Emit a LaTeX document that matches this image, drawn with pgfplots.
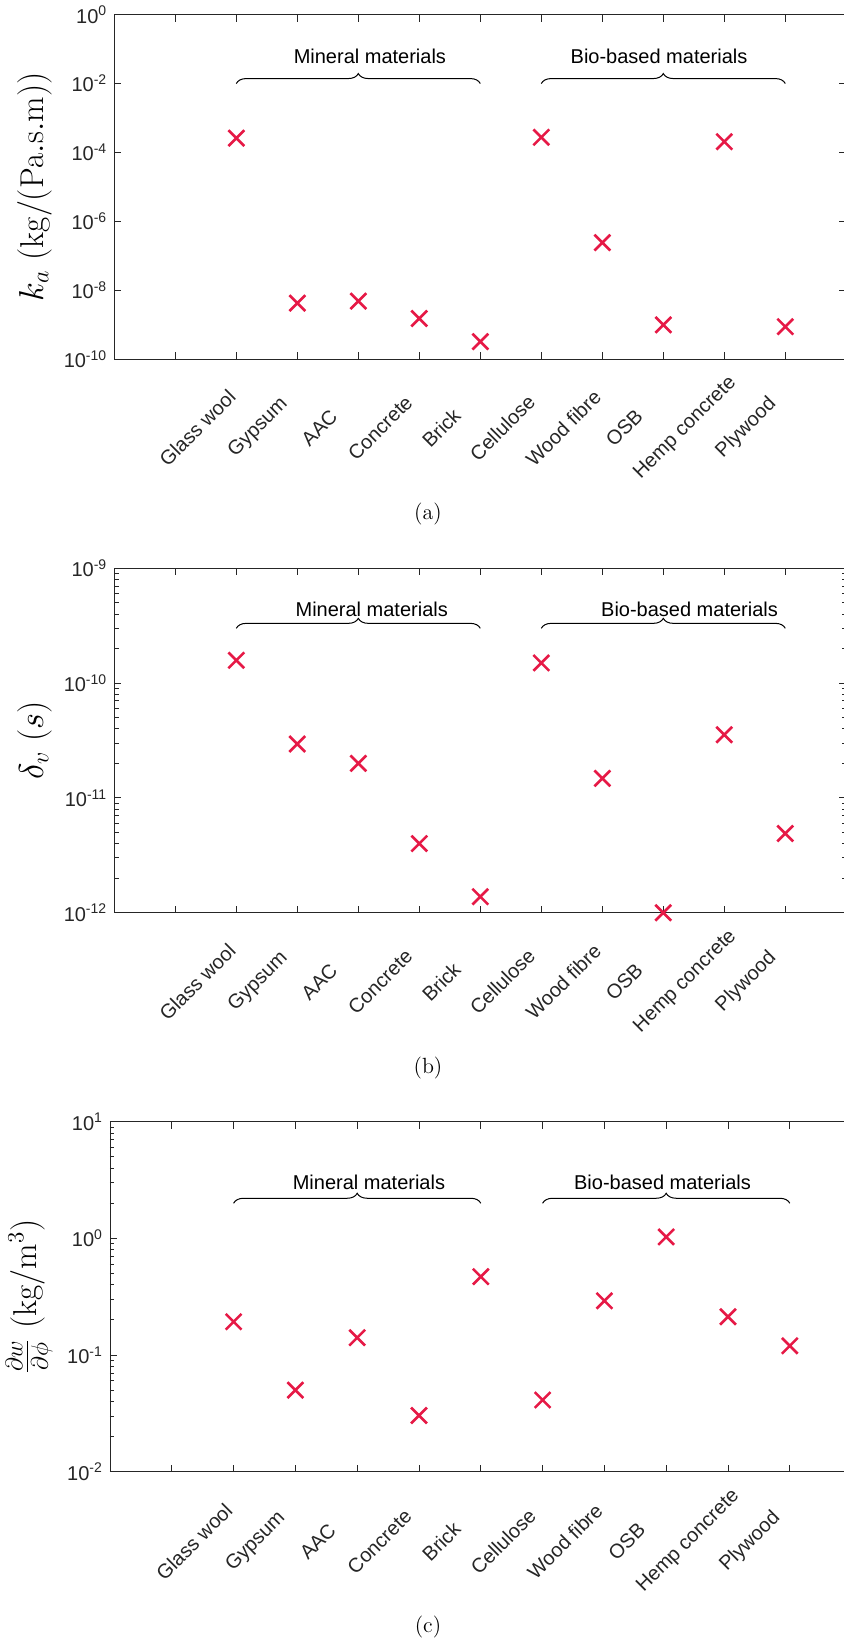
\documentclass[border=0pt]{standalone}
\usepackage{fontspec}
\usepackage{pgfplots}
\pgfplotsset{compat=1.18}
\usetikzlibrary{decorations.pathreplacing}
\newfontfamily\hv{Liberation Sans}
\definecolor{mred}{RGB}{230,25,70}
\definecolor{axgray}{gray}{0.15}

\pgfplotsset{
  panel/.style={
    scale only axis,
    xmin=-1, xmax=11, clip=false,
    xtick={0,...,10},
    xticklabels={,Glass wool,Gypsum,AAC,Concrete,Brick,Cellulose,Wood fibre,OSB,Hemp concrete,Plywood},
    axis line style={axgray, line width=0.45pt},
    tick style={axgray, line width=0.45pt},
    major tick length=3.5pt, minor tick length=2.2pt,
    tick label style={font=\hv, text=axgray},
    every axis y label/.style={at={(axis description cs:-0.109,0.5)}, rotate=90, anchor=center,
      font=\fontsize{16.5}{20}\selectfont},
  },
  pts/.style={only marks, mark=x, mark size=5.6pt, color=mred, mark options={line width=1.3pt}},
}
\tikzset{brc/.style={black, line width=0.5pt, decorate, decoration={brace, amplitude=5pt}}}

\begin{document}
\begin{tikzpicture}
% (a) air permeability
\begin{axis}[ymode=log, panel, at={(57.15pt,-7.35pt)}, anchor=north west,
  width=366pt, height=172.15pt,
  ymin=1e-10, ymax=1,
  ytick={1e-10,1e-8,1e-6,1e-4,1e-2,1},
  yticklabels={10\textsuperscript{-10},10\textsuperscript{-8},10\textsuperscript{-6},10\textsuperscript{-4},10\textsuperscript{-2},10\textsuperscript{0}},
  yminorticks=false,
  xticklabel style={xshift=-19.5pt, yshift=-34.5pt, rotate=45, anchor=center},
  ylabel={$k_a\ (\mathrm{kg/(Pa.s.m)})$},
]
\addplot[pts] coordinates {(1,2.6e-4) (2,4.2e-9) (3,4.8e-9) (4,1.5e-9) (5,3.2e-10)
  (6,2.75e-4) (7,2.4e-7) (8,9.8e-10) (9,2.05e-4) (10,8.7e-10)};
\draw[brc] (axis cs:1,1e-2) -- (axis cs:5,1e-2);
\draw[brc] (axis cs:6,1e-2) -- (axis cs:10,1e-2);
\node[font=\hv, anchor=base, yshift=10.15pt] at (axis cs:3.19,1e-2) {Mineral materials};
\node[font=\hv, anchor=base, yshift=10.15pt] at (axis cs:7.93,1e-2) {Bio-based materials};
\end{axis}

% (b) vapour permeability
\begin{axis}[ymode=log, panel, at={(57.15pt,-284.15pt)}, anchor=north west,
  width=366pt, height=172.2pt,
  ymin=1e-12, ymax=1e-9,
  ytick={1e-12,1e-11,1e-10,1e-9},
  yticklabels={10\textsuperscript{-12},10\textsuperscript{-11},10\textsuperscript{-10},10\textsuperscript{-9}},
  minor ytick={2e-12,3e-12,4e-12,5e-12,6e-12,7e-12,8e-12,9e-12,
    2e-11,3e-11,4e-11,5e-11,6e-11,7e-11,8e-11,9e-11,
    2e-10,3e-10,4e-10,5e-10,6e-10,7e-10,8e-10,9e-10},
  xticklabel style={xshift=-19.5pt, yshift=-34.5pt, rotate=45, anchor=center},
  ylabel={$\delta_v\ (s)$},
]
\addplot[pts] coordinates {(1,1.58e-10) (2,2.95e-11) (3,2.0e-11) (4,4.0e-12) (5,1.38e-12)
  (6,1.5e-10) (7,1.48e-11) (8,1.0e-12) (9,3.55e-11) (10,4.9e-12)};
\draw[brc] (axis cs:1,3e-10) -- (axis cs:5,3e-10);
\draw[brc] (axis cs:6,3e-10) -- (axis cs:10,3e-10);
\node[font=\hv, anchor=base, yshift=5.8pt] at (axis cs:3.22,3e-10) {Mineral materials};
\node[font=\hv, anchor=base, yshift=5.8pt] at (axis cs:8.43,3e-10) {Bio-based materials};
\end{axis}

% (c) moisture capacity
\begin{axis}[ymode=log, panel, at={(55pt,-560.85pt)}, anchor=north west,
  width=370.8pt, height=175pt,
  ymin=1e-2, ymax=10,
  ytick={1e-2,1e-1,1,10},
  yticklabels={10\textsuperscript{-2},10\textsuperscript{-1},10\textsuperscript{0},10\textsuperscript{1}},
  minor ytick={0.02,0.03,0.04,0.05,0.06,0.07,0.08,0.09,
    0.2,0.3,0.4,0.5,0.6,0.7,0.8,0.9,2,3,4,5,6,7,8,9},
  xticklabel style={xshift=-19.75pt, yshift=-34.9pt, rotate=45, anchor=center},
  ylabel={$\frac{\partial w}{\partial \phi}\ (\mathrm{kg/m^3})$},
]
\addplot[pts] coordinates {(1,0.193) (2,0.050) (3,0.141) (4,0.0303) (5,0.47)
  (6,0.0412) (7,0.292) (8,1.03) (9,0.213) (10,0.12)};
\draw[brc] (axis cs:1,2) -- (axis cs:5,2);
\draw[brc] (axis cs:6,2) -- (axis cs:10,2);
\node[font=\hv, anchor=base, yshift=6.65pt] at (axis cs:3.19,2) {Mineral materials};
\node[font=\hv, anchor=base, yshift=6.65pt] at (axis cs:7.94,2) {Bio-based materials};
\end{axis}

\node[font=\fontsize{11}{13}\selectfont] at (214pt,-257pt) {(a)};
\node[font=\fontsize{11}{13}\selectfont] at (214pt,-533.85pt) {(b)};
\node[font=\fontsize{11}{13}\selectfont] at (214pt,-813.35pt) {(c)};

\pgfresetboundingbox
\path (0,0) rectangle (422pt,-821pt);
\end{tikzpicture}
\end{document}
